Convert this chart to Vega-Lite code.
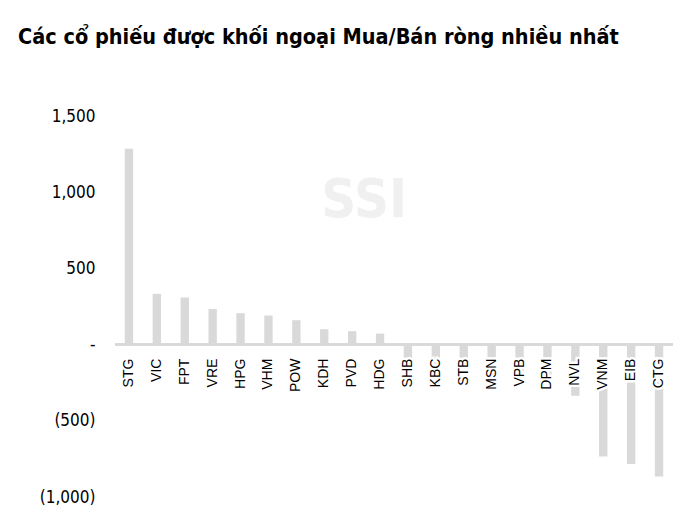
{
  "$schema": "https://vega.github.io/schema/vega-lite/v6.json",
  "autosize": {"type": "none"},
  "width": 558,
  "height": 381,
  "padding": {"left": 115, "top": 116, "right": 27, "bottom": 23},
  "background": "white",
  "config": {"view": {"stroke": null}},
  "title": {
    "text": "Các cổ phiếu được khối ngoại Mua/Bán ròng nhiều nhất",
    "font": "'DejaVu Sans Condensed', sans-serif",
    "fontWeight": "bold",
    "fontSize": 21.5,
    "color": "#000000",
    "anchor": "start",
    "frame": "group",
    "baseline": "alphabetic",
    "dx": -97,
    "offset": 42
  },
  "data": {
    "values": [
      {"ticker": "STG", "value": 1285},
      {"ticker": "VIC", "value": 333},
      {"ticker": "FPT", "value": 309},
      {"ticker": "VRE", "value": 234},
      {"ticker": "HPG", "value": 206},
      {"ticker": "VHM", "value": 191},
      {"ticker": "POW", "value": 160},
      {"ticker": "KDH", "value": 101},
      {"ticker": "PVD", "value": 88},
      {"ticker": "HDG", "value": 72},
      {"ticker": "SHB", "value": -110},
      {"ticker": "KBC", "value": -125},
      {"ticker": "STB", "value": -140},
      {"ticker": "MSN", "value": -155},
      {"ticker": "VPB", "value": -175},
      {"ticker": "DPM", "value": -200},
      {"ticker": "NVL", "value": -336},
      {"ticker": "VNM", "value": -735},
      {"ticker": "EIB", "value": -783},
      {"ticker": "CTG", "value": -866}
    ]
  },
  "encoding": {
    "x": {
      "field": "ticker",
      "type": "nominal",
      "sort": null,
      "scale": {"paddingInner": 0.7, "paddingOuter": 0.35},
      "axis": null
    }
  },
  "layer": [
    {
      "mark": {"type": "bar", "color": "#d9d9d9"},
      "encoding": {
        "y": {
          "field": "value",
          "type": "quantitative",
          "scale": {"domain": [-1000, 1500], "nice": false},
          "axis": {
            "title": null,
            "domain": false,
            "ticks": false,
            "grid": false,
            "values": [-1000, -500, 0, 500, 1000, 1500],
            "labelExpr": "datum.value == 0 ? '-\u00a0\u00a0\u00a0' : (datum.value < 0 ? '(' + format(-datum.value, ',') + ')' : format(datum.value, ',') + '\u00a0')",
            "labelFont": "'DejaVu Sans Condensed', sans-serif",
            "labelFontSize": 17,
            "labelColor": "#000000",
            "labelPadding": 20
          }
        }
      }
    },
    {
      "transform": [{"filter": "datum.ticker == 'PVD'"}],
      "mark": {"type": "text", "text": "SSI", "font": "'DejaVu Sans Condensed', sans-serif", "fontWeight": "bold", "fontSize": 54, "color": "#f0f0f0", "align": "center", "baseline": "middle", "dx": 12},
      "encoding": {
        "y": {"datum": 940, "type": "quantitative"}
      }
    },
    {
      "mark": {"type": "rule", "color": "#d9d9d9", "strokeWidth": 2},
      "encoding": {"y": {"datum": 0, "type": "quantitative"}, "x": null}
    },
    {
      "mark": {"type": "text", "angle": 270, "align": "right", "baseline": "middle", "dx": -14, "font": "Liberation Sans", "fontSize": 14, "fill": "white", "stroke": "white", "strokeWidth": 5},
      "encoding": {
        "y": {"datum": 0, "type": "quantitative"},
        "text": {"field": "ticker"}
      }
    },
    {
      "mark": {"type": "text", "angle": 270, "align": "right", "baseline": "middle", "dx": -14, "font": "Liberation Sans", "fontSize": 14, "fill": "#000000"},
      "encoding": {
        "y": {"datum": 0, "type": "quantitative"},
        "text": {"field": "ticker"}
      }
    }
  ]
}
